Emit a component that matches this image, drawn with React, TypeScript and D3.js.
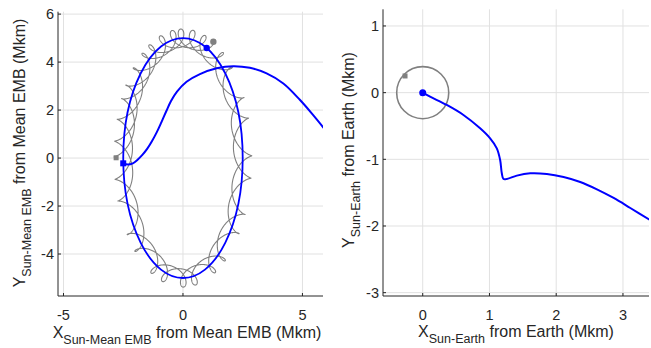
import React from "react";
import * as d3 from "d3";

// ---------- data ----------
// Left panel: mean-EMB frame
const ellipseSemiAxes = [2.5, 5.0]; // Mkm (x, y)
const orbitStartAngle = [3.186]; // rad, parameter on the ellipse at start
const orbitSweep = [14.59]; // rad, clockwise sweep
const moonRadius = [0.38]; // Mkm
const moonCyclesPerRev = [12.37];
const moonStartAngle = [2.48]; // rad

const leftTrajX = [-2.5, -2.3, -2.1, -1.9, -1.7, -1.5, -1.3, -1.1, -0.9, -0.7, -0.5, -0.25, 0.15, 0.71, 1.41, 2.1, 2.8, 3.5, 4.2, 4.9, 5.45, 5.95];
const leftTrajY = [-0.22, -0.27, -0.22, -0.07, 0.13, 0.38, 0.7, 1.07, 1.5, 1.95, 2.38, 2.77, 3.18, 3.5, 3.74, 3.83, 3.76, 3.53, 3.11, 2.42, 1.79, 1.18];

const leftXTicks = [-5, 0, 5];
const leftYTicks = [-4, -2, 0, 2, 4, 6];

// Right panel: Earth-centred frame
const moonOrbitRadius = [0.39];
const rightTrajX = [0, 0.11, 0.36, 0.61, 0.86, 1.01, 1.11, 1.16, 1.185, 1.21, 1.26, 1.41, 1.61, 1.86, 2.11, 2.36, 2.61, 2.86, 3.11, 3.42];
const rightTrajY = [0, -0.06, -0.185, -0.335, -0.535, -0.685, -0.835, -1.01, -1.21, -1.295, -1.295, -1.245, -1.21, -1.22, -1.265, -1.34, -1.45, -1.58, -1.73, -1.92];
const rightMoonStart = [-0.265, 0.25];

const rightXTicks = [0, 1, 2, 3];
const rightYTicks = [1, 0, -1, -2, -3];

// ---------- styling ----------
const W = 651;
const H = 348;
const FONT = "'Liberation Sans', Arial, Helvetica, sans-serif";
const AXIS = "#262626";
const GRID = "#e1e1e1";
const BLUE = "#0000ff";
const GRAY = "#808080";

function Axes({ x, y, xTicks, yTicks, id, children }: any) {
  const [x0, x1] = x.range();
  const [y0, y1] = y.range();
  return (
    <g>
      <defs>
        <clipPath id={id}>
          <rect x={x0} y={y1} width={x1 - x0} height={y0 - y1} />
        </clipPath>
      </defs>
      {xTicks.map((t: number) => (
        <line key={"gx" + t} x1={x(t)} x2={x(t)} y1={y0} y2={y1} stroke={GRID} strokeWidth={1} />
      ))}
      {yTicks.map((t: number) => (
        <line key={"gy" + t} x1={x0} x2={x1} y1={y(t)} y2={y(t)} stroke={GRID} strokeWidth={1} />
      ))}
      <g clipPath={`url(#${id})`}>{children}</g>
      <line x1={x0} x2={x1} y1={y0} y2={y0} stroke={AXIS} strokeWidth={1} />
      <line x1={x0} x2={x0} y1={y0} y2={y1} stroke={AXIS} strokeWidth={1} />
      {xTicks.map((t: number) => (
        <g key={"tx" + t}>
          <line x1={x(t)} x2={x(t)} y1={y0} y2={y0 - 3} stroke={AXIS} />
          <text x={x(t)} y={y0 + 24} textAnchor="middle" fontSize={14.5} fill={AXIS} fontFamily={FONT}>
            {t}
          </text>
        </g>
      ))}
      {yTicks.map((t: number) => (
        <g key={"ty" + t}>
          <line x1={x0} x2={x0 + 3} y1={y(t)} y2={y(t)} stroke={AXIS} />
          <text x={x0 - 4} y={y(t)} dy="0.36em" textAnchor="end" fontSize={14.5} fill={AXIS} fontFamily={FONT}>
            {t}
          </text>
        </g>
      ))}
    </g>
  );
}

function Label({ x, y, main, sub, rest, rotate }: any) {
  return (
    <text
      transform={`translate(${x},${y})${rotate ? " rotate(-90)" : ""}`}
      textAnchor="middle"
      fontSize={16}
      fill={AXIS}
      fontFamily={FONT}
    >
      <tspan>{main}</tspan>
      <tspan dy={6} fontSize={12.5}>{sub}</tspan>
      <tspan dy={-6}>{" " + rest}</tspan>
    </text>
  );
}

export default function App() {
  // left scales
  const xL = d3.scaleLinear().domain([-5.23, 5.86]).range([58, 323]);
  const yL = d3.scaleLinear().domain([-5.75, 6.1]).range([296, 11.7]);
  // right scales
  const xR = d3.scaleLinear().domain([-0.595, 3.39]).range([383, 649]);
  const yR = d3.scaleLinear().domain([-3.05, 1.25]).range([296, 9.3]);

  const [a, b] = ellipseSemiAxes;
  const steps = 4000;
  const grayPts: [number, number][] = d3.range(steps + 1).map((i) => {
    const t = (i / steps) * orbitSweep[0];
    const th = orbitStartAngle[0] - t;
    const ps = moonStartAngle[0] + moonCyclesPerRev[0] * t;
    return [a * Math.cos(th) + moonRadius[0] * Math.cos(ps), b * Math.sin(th) + moonRadius[0] * Math.sin(ps)];
  });
  const grayStart = grayPts[0];
  const grayEnd = grayPts[grayPts.length - 1];
  const thEnd = orbitStartAngle[0] - orbitSweep[0];
  const blueStart: [number, number] = [leftTrajX[0], leftTrajY[0]];
  const blueEnd: [number, number] = [a * Math.cos(thEnd), b * Math.sin(thEnd)];

  const lineL = d3
    .line<[number, number]>()
    .x((d) => xL(d[0]))
    .y((d) => yL(d[1]));
  const smoothL = d3
    .line<[number, number]>()
    .x((d) => xL(d[0]))
    .y((d) => yL(d[1]))
    .curve(d3.curveCatmullRom.alpha(0.5));
  const smoothR = d3
    .line<[number, number]>()
    .x((d) => xR(d[0]))
    .y((d) => yR(d[1]))
    .curve(d3.curveCatmullRom.alpha(0.5));

  const leftTraj = leftTrajX.map((v, i) => [v, leftTrajY[i]] as [number, number]);
  const rightTraj = rightTrajX.map((v, i) => [v, rightTrajY[i]] as [number, number]);

  return (
    <svg width={W} height={H} style={{ position: "absolute", left: 0, top: 0, background: "#fff" }}>
      <rect width={W} height={H} fill="#fff" />
      <Axes x={xL} y={yL} xTicks={leftXTicks} yTicks={leftYTicks} id="clipL">
        <path d={lineL(grayPts) || ""} fill="none" stroke={GRAY} strokeWidth={1.1} />
        <ellipse cx={xL(0)} cy={yL(0)} rx={xL(a) - xL(0)} ry={yL(0) - yL(b)} fill="none" stroke={BLUE} strokeWidth={1.8} />
        <path d={smoothL(leftTraj) || ""} fill="none" stroke={BLUE} strokeWidth={2} />
        <rect x={xL(grayStart[0]) - 2.5} y={yL(grayStart[1]) - 2.5} width={5} height={5} fill={GRAY} />
        <circle cx={xL(grayEnd[0])} cy={yL(grayEnd[1])} r={3.2} fill={GRAY} />
        <rect x={xL(blueStart[0]) - 3} y={yL(blueStart[1]) - 3} width={6} height={6} fill={BLUE} />
        <circle cx={xL(blueEnd[0])} cy={yL(blueEnd[1])} r={3.2} fill={BLUE} />
      </Axes>
      <Axes x={xR} y={yR} xTicks={rightXTicks} yTicks={rightYTicks} id="clipR">
        <circle cx={xR(0)} cy={yR(0)} r={xR(moonOrbitRadius[0]) - xR(0)} fill="none" stroke={GRAY} strokeWidth={1.6} />
        <rect x={xR(rightMoonStart[0]) - 2.5} y={yR(rightMoonStart[1]) - 2.5} width={5} height={5} fill={GRAY} />
        <path d={smoothR(rightTraj) || ""} fill="none" stroke={BLUE} strokeWidth={2} />
        <circle cx={xR(0)} cy={yR(0)} r={3.5} fill={BLUE} />
      </Axes>
      <Label x={187} y={338} main="X" sub="Sun-Mean EMB" rest="from Mean EMB (Mkm)" />
      <Label x={25} y={153} main="Y" sub="Sun-Mean EMB" rest="from Mean EMB (Mkm)" rotate />
      <Label x={516} y={337} main="X" sub="Sun-Earth" rest="from Earth (Mkm)" />
      <Label x={354} y={150} main="Y" sub="Sun-Earth" rest="from Earth (Mkm)" rotate />
    </svg>
  );
}
